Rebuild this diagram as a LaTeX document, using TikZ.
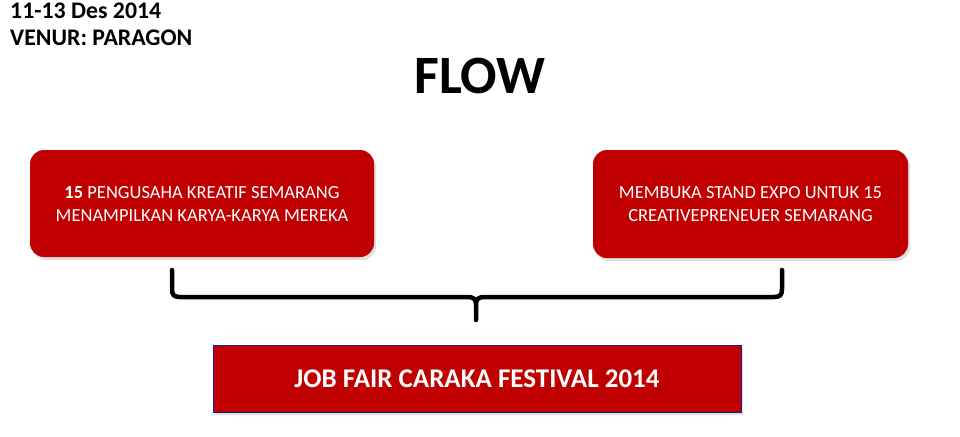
\documentclass[tikz,border=0pt]{standalone}
\usepackage{fontspec}
\setmainfont{Carlito}
\usetikzlibrary{positioning, shadows}
\definecolor{slidered}{HTML}{C00000}
\definecolor{frameblue}{HTML}{1C1C8E}
\tikzset{
  infobox/.style={fill=slidered, rounded corners=14pt, text=white, align=center,
    font=\fontsize{18.5}{23}\selectfont,
    drop shadow={shadow xshift=2pt, shadow yshift=-3pt, opacity=0.25}},
  eventbox/.style={fill=slidered, draw=frameblue, line width=0.8pt, text=white,
    font=\bfseries\fontsize{27}{31}\selectfont, minimum width=528pt, minimum height=67pt,
    drop shadow={shadow xshift=2pt, shadow yshift=-3pt, opacity=0.25}},
  braceline/.style={line width=4.5pt, line cap=round, line join=round}
}
\begin{document}
\begin{tikzpicture}[x=1pt, y=-1pt]
\useasboundingbox (0,0) rectangle (960,436);
% Header
\node[anchor=north west, align=left, inner sep=0pt, font=\bfseries\fontsize{23.8}{27}\selectfont] (info) at (10,3) {11-13 Des 2014\\VENUR: PARAGON};
\node[font=\bfseries\fontsize{54}{60}\selectfont] (title) at (480,76) {FLOW};
% Boxes
\node[infobox, minimum width=344pt, minimum height=107pt] (creators) at (202,203.5)
  {\textbf{15} PENGUSAHA KREATIF SEMARANG\\MENAMPILKAN KARYA-KARYA MEREKA};
\node[infobox, minimum width=315pt, minimum height=108pt] (expo) at (750.5,204)
  {MEMBUKA STAND EXPO UNTUK 15\\CREATIVEPRENEUER SEMARANG};
\node[eventbox] (festival) at (477,378.5) {JOB FAIR CARAKA FESTIVAL 2014};
% Brace
\coordinate (braceL) at (172,270);
\coordinate (braceR) at (782,270);
\coordinate (braceM) at (476,297);
\coordinate (braceTip) at (476,320);
\draw[braceline] (braceL) -- (172,289) .. controls (172,295) and (174,297) .. (180,297)
  -- (468,297) .. controls (473,297) and (476,299) .. (476,304) -- (braceTip);
\draw[braceline] (braceR) -- (782,289) .. controls (782,295) and (780,297) .. (774,297)
  -- (484,297) .. controls (479,297) and (476,299) .. (476,304);
\end{tikzpicture}
\end{document}
